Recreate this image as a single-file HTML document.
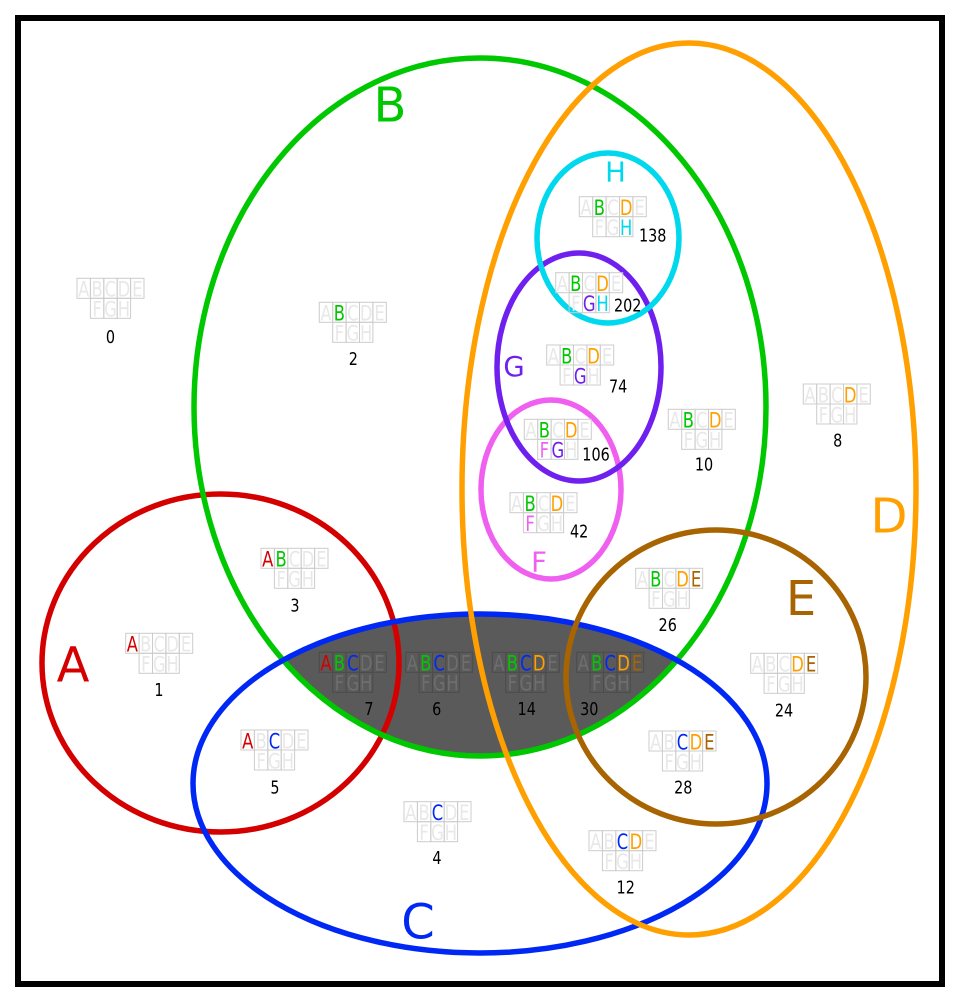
<!DOCTYPE html>
<html><head><meta charset="utf-8"><style>
html,body{margin:0;padding:0;background:#fff;width:960px;height:1004px;overflow:hidden}
svg{display:block}
.t{font-family:"DejaVu Sans","Liberation Sans",sans-serif;font-size:21px;text-anchor:middle;fill:#e8e8e8}
.dk{fill:#6e6e6e}
.n{font-family:"DejaVu Sans","Liberation Sans",sans-serif;font-size:18px;fill:#000}
.nm{text-anchor:middle}
.big{font-family:"DejaVu Sans","Liberation Sans",sans-serif;font-size:48px;text-anchor:middle}
.sm{font-family:"DejaVu Sans","Liberation Sans",sans-serif;font-size:27.5px;text-anchor:middle}
.A{fill:#d40000}.B{fill:#00c800}.C{fill:#0028f5}.D{fill:#ffa000}.E{fill:#a86400}.F{fill:#f060f0}.G{fill:#7020ee}.H{fill:#00d8ee}
</style></head><body>
<svg width="960" height="1004" viewBox="0 0 960 1004" xmlns="http://www.w3.org/2000/svg">
<defs>
<g id="c" fill="none">
<rect x="0" y="0" width="13.4" height="20"/><rect x="13.4" y="0" width="13.4" height="20"/><rect x="26.8" y="0" width="13.4" height="20"/><rect x="40.2" y="0" width="13.4" height="20"/><rect x="53.6" y="0" width="13.4" height="20"/>
<rect x="13.4" y="20" width="13.4" height="20"/><rect x="26.8" y="20" width="13.4" height="20"/><rect x="40.2" y="20" width="13.4" height="20"/>
</g>
<clipPath id="clipB"><ellipse cx="480" cy="407" rx="286" ry="349"/></clipPath>
</defs>
<rect x="0" y="0" width="960" height="1004" fill="#fff"/>
<rect x="18" y="18" width="924" height="966" fill="none" stroke="#000" stroke-width="6"/>

<ellipse cx="480" cy="783.5" rx="287" ry="169.5" fill="#5a5a5a" clip-path="url(#clipB)"/>

<g fill="none" stroke-width="5.5">
<ellipse cx="220.5" cy="663" rx="178.5" ry="169" stroke="#d40000"/>
<ellipse cx="480" cy="407" rx="286" ry="349" stroke="#00c800"/>
<ellipse cx="480" cy="783.5" rx="287" ry="169.5" stroke="#0028f5"/>
<ellipse cx="689" cy="489" rx="227" ry="446" stroke="#ffa000"/>
<ellipse cx="716" cy="677" rx="150" ry="147" stroke="#a86400"/>
<ellipse cx="551" cy="489.5" rx="70" ry="89.5" stroke="#f060f0"/>
<ellipse cx="579" cy="367" rx="82" ry="114" stroke="#7020ee"/>
<ellipse cx="608" cy="238" rx="71" ry="85" stroke="#00d8ee"/>
</g>

<text class="big A" x="73" y="681.7">A</text>
<text class="big B" x="390" y="121.7">B</text>
<text class="big C" x="418" y="938.3">C</text>
<text class="big D" x="889" y="532.7">D</text>
<text class="big E" x="801" y="615">E</text>
<text class="sm F" x="539" y="571.7">F</text>
<text class="sm G" x="514" y="376">G</text>
<text class="sm H" x="615.5" y="181.7">H</text>

<g transform="translate(77,278.3)"><use href="#c" stroke="#cccccc"/><text class="t" transform="scale(0.78,1)"><tspan x="8.59" y="18.3">A</tspan><tspan x="25.77">B</tspan><tspan x="42.95">C</tspan><tspan x="60.13">D</tspan><tspan x="77.31">E</tspan><tspan x="25.77" y="38.3">F</tspan><tspan x="42.95">G</tspan><tspan x="60.13">H</tspan></text></g>
<text class="n nm" transform="translate(110.5,343) scale(0.8,1)">0</text>
<g transform="translate(125.7,633.3)"><use href="#c" stroke="#cccccc"/><text class="t" transform="scale(0.78,1)"><tspan x="8.59" y="18.3" class="A">A</tspan><tspan x="25.77">B</tspan><tspan x="42.95">C</tspan><tspan x="60.13">D</tspan><tspan x="77.31">E</tspan><tspan x="25.77" y="38.3">F</tspan><tspan x="42.95">G</tspan><tspan x="60.13">H</tspan></text></g>
<text class="n nm" transform="translate(159,696) scale(0.8,1)">1</text>
<g transform="translate(319.3,302.3)"><use href="#c" stroke="#cccccc"/><text class="t" transform="scale(0.78,1)"><tspan x="8.59" y="18.3">A</tspan><tspan x="25.77" class="B">B</tspan><tspan x="42.95">C</tspan><tspan x="60.13">D</tspan><tspan x="77.31">E</tspan><tspan x="25.77" y="38.3">F</tspan><tspan x="42.95">G</tspan><tspan x="60.13">H</tspan></text></g>
<text class="n nm" transform="translate(353.3,365) scale(0.8,1)">2</text>
<g transform="translate(261,548.3)"><use href="#c" stroke="#cccccc"/><text class="t" transform="scale(0.78,1)"><tspan x="8.59" y="18.3" class="A">A</tspan><tspan x="25.77" class="B">B</tspan><tspan x="42.95">C</tspan><tspan x="60.13">D</tspan><tspan x="77.31">E</tspan><tspan x="25.77" y="38.3">F</tspan><tspan x="42.95">G</tspan><tspan x="60.13">H</tspan></text></g>
<text class="n nm" transform="translate(295,611.7) scale(0.8,1)">3</text>
<g transform="translate(404,801.7)"><use href="#c" stroke="#cccccc"/><text class="t" transform="scale(0.78,1)"><tspan x="8.59" y="18.3">A</tspan><tspan x="25.77">B</tspan><tspan x="42.95" class="C">C</tspan><tspan x="60.13">D</tspan><tspan x="77.31">E</tspan><tspan x="25.77" y="38.3">F</tspan><tspan x="42.95">G</tspan><tspan x="60.13">H</tspan></text></g>
<text class="n nm" transform="translate(437,864) scale(0.8,1)">4</text>
<g transform="translate(241,730)"><use href="#c" stroke="#cccccc"/><text class="t" transform="scale(0.78,1)"><tspan x="8.59" y="18.3" class="A">A</tspan><tspan x="25.77">B</tspan><tspan x="42.95" class="C">C</tspan><tspan x="60.13">D</tspan><tspan x="77.31">E</tspan><tspan x="25.77" y="38.3">F</tspan><tspan x="42.95">G</tspan><tspan x="60.13">H</tspan></text></g>
<text class="n nm" transform="translate(275,793.3) scale(0.8,1)">5</text>
<g transform="translate(405.7,652.3)"><use href="#c" stroke="#4b4b4b"/><text class="t dk" transform="scale(0.78,1)"><tspan x="8.59" y="18.3">A</tspan><tspan x="25.77" class="B">B</tspan><tspan x="42.95" class="C">C</tspan><tspan x="60.13">D</tspan><tspan x="77.31">E</tspan><tspan x="25.77" y="38.3">F</tspan><tspan x="42.95">G</tspan><tspan x="60.13">H</tspan></text></g>
<text class="n nm" transform="translate(436.7,715) scale(0.8,1)">6</text>
<g transform="translate(319.3,652.3)"><use href="#c" stroke="#4b4b4b"/><text class="t dk" transform="scale(0.78,1)"><tspan x="8.59" y="18.3" class="A">A</tspan><tspan x="25.77" class="B">B</tspan><tspan x="42.95" class="C">C</tspan><tspan x="60.13">D</tspan><tspan x="77.31">E</tspan><tspan x="25.77" y="38.3">F</tspan><tspan x="42.95">G</tspan><tspan x="60.13">H</tspan></text></g>
<text class="n nm" transform="translate(369,715) scale(0.8,1)">7</text>
<g transform="translate(803.3,384)"><use href="#c" stroke="#cccccc"/><text class="t" transform="scale(0.78,1)"><tspan x="8.59" y="18.3">A</tspan><tspan x="25.77">B</tspan><tspan x="42.95">C</tspan><tspan x="60.13" class="D">D</tspan><tspan x="77.31">E</tspan><tspan x="25.77" y="38.3">F</tspan><tspan x="42.95">G</tspan><tspan x="60.13">H</tspan></text></g>
<text class="n nm" transform="translate(837.7,446.7) scale(0.8,1)">8</text>
<g transform="translate(668.3,409.3)"><use href="#c" stroke="#cccccc"/><text class="t" transform="scale(0.78,1)"><tspan x="8.59" y="18.3">A</tspan><tspan x="25.77" class="B">B</tspan><tspan x="42.95">C</tspan><tspan x="60.13" class="D">D</tspan><tspan x="77.31">E</tspan><tspan x="25.77" y="38.3">F</tspan><tspan x="42.95">G</tspan><tspan x="60.13">H</tspan></text></g>
<text class="n nm" transform="translate(704,470.7) scale(0.8,1)">10</text>
<g transform="translate(589,830.7)"><use href="#c" stroke="#cccccc"/><text class="t" transform="scale(0.78,1)"><tspan x="8.59" y="18.3">A</tspan><tspan x="25.77">B</tspan><tspan x="42.95" class="C">C</tspan><tspan x="60.13" class="D">D</tspan><tspan x="77.31">E</tspan><tspan x="25.77" y="38.3">F</tspan><tspan x="42.95">G</tspan><tspan x="60.13">H</tspan></text></g>
<text class="n nm" transform="translate(625.7,893.3) scale(0.8,1)">12</text>
<g transform="translate(492.3,652.3)"><use href="#c" stroke="#4b4b4b"/><text class="t dk" transform="scale(0.78,1)"><tspan x="8.59" y="18.3">A</tspan><tspan x="25.77" class="B">B</tspan><tspan x="42.95" class="C">C</tspan><tspan x="60.13" class="D">D</tspan><tspan x="77.31">E</tspan><tspan x="25.77" y="38.3">F</tspan><tspan x="42.95">G</tspan><tspan x="60.13">H</tspan></text></g>
<text class="n nm" transform="translate(526.7,715) scale(0.8,1)">14</text>
<g transform="translate(750.7,653.3)"><use href="#c" stroke="#cccccc"/><text class="t" transform="scale(0.78,1)"><tspan x="8.59" y="18.3">A</tspan><tspan x="25.77">B</tspan><tspan x="42.95">C</tspan><tspan x="60.13" class="D">D</tspan><tspan x="77.31" class="E">E</tspan><tspan x="25.77" y="38.3">F</tspan><tspan x="42.95">G</tspan><tspan x="60.13">H</tspan></text></g>
<text class="n nm" transform="translate(784,716.7) scale(0.8,1)">24</text>
<g transform="translate(635.7,568.3)"><use href="#c" stroke="#cccccc"/><text class="t" transform="scale(0.78,1)"><tspan x="8.59" y="18.3">A</tspan><tspan x="25.77" class="B">B</tspan><tspan x="42.95">C</tspan><tspan x="60.13" class="D">D</tspan><tspan x="77.31" class="E">E</tspan><tspan x="25.77" y="38.3">F</tspan><tspan x="42.95">G</tspan><tspan x="60.13">H</tspan></text></g>
<text class="n nm" transform="translate(667.7,631) scale(0.8,1)">26</text>
<g transform="translate(649,731)"><use href="#c" stroke="#cccccc"/><text class="t" transform="scale(0.78,1)"><tspan x="8.59" y="18.3">A</tspan><tspan x="25.77">B</tspan><tspan x="42.95" class="C">C</tspan><tspan x="60.13" class="D">D</tspan><tspan x="77.31" class="E">E</tspan><tspan x="25.77" y="38.3">F</tspan><tspan x="42.95">G</tspan><tspan x="60.13">H</tspan></text></g>
<text class="n nm" transform="translate(683.3,793.3) scale(0.8,1)">28</text>
<g transform="translate(576.7,652.3)"><use href="#c" stroke="#4b4b4b"/><text class="t dk" transform="scale(0.78,1)"><tspan x="8.59" y="18.3">A</tspan><tspan x="25.77" class="B">B</tspan><tspan x="42.95" class="C">C</tspan><tspan x="60.13" class="D">D</tspan><tspan x="77.31" class="E">E</tspan><tspan x="25.77" y="38.3">F</tspan><tspan x="42.95">G</tspan><tspan x="60.13">H</tspan></text></g>
<text class="n nm" transform="translate(589.3,715) scale(0.8,1)">30</text>
<g transform="translate(510,492.7)"><use href="#c" stroke="#cccccc"/><text class="t" transform="scale(0.78,1)"><tspan x="8.59" y="18.3">A</tspan><tspan x="25.77" class="B">B</tspan><tspan x="42.95">C</tspan><tspan x="60.13" class="D">D</tspan><tspan x="77.31">E</tspan><tspan x="25.77" y="38.3" class="F">F</tspan><tspan x="42.95">G</tspan><tspan x="60.13">H</tspan></text></g>
<text class="n" transform="translate(570,537.3) scale(0.8,1)">42</text>
<g transform="translate(546.7,345)"><use href="#c" stroke="#cccccc"/><text class="t" transform="scale(0.78,1)"><tspan x="8.59" y="18.3">A</tspan><tspan x="25.77" class="B">B</tspan><tspan x="42.95">C</tspan><tspan x="60.13" class="D">D</tspan><tspan x="77.31">E</tspan><tspan x="25.77" y="38.3">F</tspan><tspan x="42.95" class="G">G</tspan><tspan x="60.13">H</tspan></text></g>
<text class="n" transform="translate(609,392.7) scale(0.8,1)">74</text>
<g transform="translate(524.3,419.3)"><use href="#c" stroke="#cccccc"/><text class="t" transform="scale(0.78,1)"><tspan x="8.59" y="18.3">A</tspan><tspan x="25.77" class="B">B</tspan><tspan x="42.95">C</tspan><tspan x="60.13" class="D">D</tspan><tspan x="77.31">E</tspan><tspan x="25.77" y="38.3" class="F">F</tspan><tspan x="42.95" class="G">G</tspan><tspan x="60.13">H</tspan></text></g>
<text class="n" transform="translate(582.3,460.7) scale(0.8,1)">106</text>
<g transform="translate(579.3,196.7)"><use href="#c" stroke="#cccccc"/><text class="t" transform="scale(0.78,1)"><tspan x="8.59" y="18.3">A</tspan><tspan x="25.77" class="B">B</tspan><tspan x="42.95">C</tspan><tspan x="60.13" class="D">D</tspan><tspan x="77.31">E</tspan><tspan x="25.77" y="38.3">F</tspan><tspan x="42.95">G</tspan><tspan x="60.13" class="H">H</tspan></text></g>
<text class="n" transform="translate(639,241.7) scale(0.8,1)">138</text>
<g transform="translate(555.7,272.7)"><use href="#c" stroke="#cccccc"/><text class="t" transform="scale(0.78,1)"><tspan x="8.59" y="18.3">A</tspan><tspan x="25.77" class="B">B</tspan><tspan x="42.95">C</tspan><tspan x="60.13" class="D">D</tspan><tspan x="77.31">E</tspan><tspan x="25.77" y="38.3">F</tspan><tspan x="42.95" class="G">G</tspan><tspan x="60.13" class="H">H</tspan></text></g>
<text class="n" transform="translate(614,311.7) scale(0.8,1)">202</text>
</svg>
</body></html>
